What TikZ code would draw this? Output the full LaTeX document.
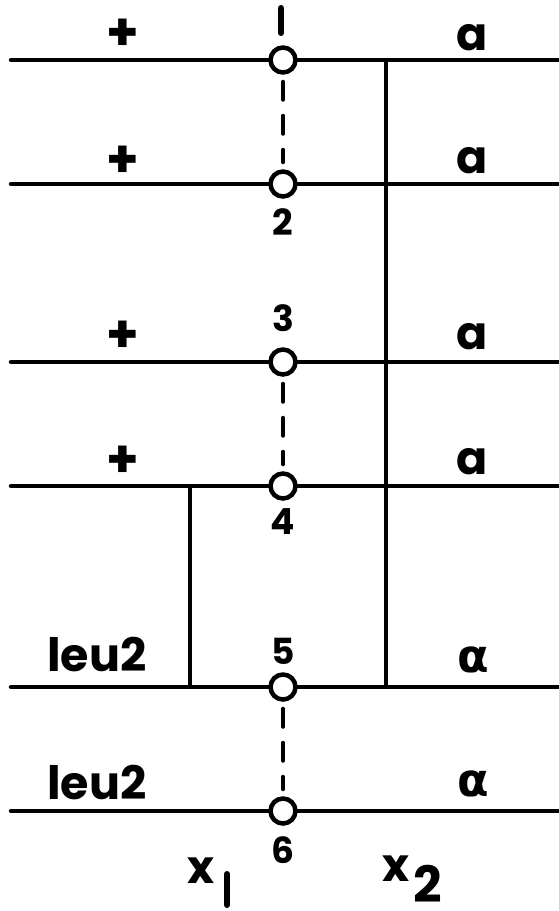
\documentclass[tikz,border=0pt]{standalone}
\usepackage{fontspec}
\setmainfont{Poppins}
\newfontfamily\greekfont{DejaVu Sans}
\begin{document}
\begin{tikzpicture}[x=1pt,y=-1pt,
  chrom/.style={line width=4.5pt,line cap=round},
  link/.style={line width=4pt},
  cent/.style={circle,draw,line width=4.5pt,fill=white,minimum size=25pt,inner sep=0pt},
  pair/.style={line width=4pt,line cap=round,dash pattern=on 18pt off 16pt,shorten <=7pt,shorten >=7pt},
  lab/.style={inner sep=0pt,font=\fontsize{46}{48}\selectfont\bfseries},
  greek/.style={inner sep=0pt,font=\fontsize{46}{48}\selectfont\greekfont\bfseries},
  num/.style={inner sep=0pt,font=\fontsize{36}{38}\selectfont\bfseries},
  plus/.style={inner sep=0pt,font=\fontsize{52}{54}\selectfont\bfseries},
  bar/.style={line width=6pt,line cap=round}]
\useasboundingbox (0,0) rectangle (559,911);
% chromosome ends
\foreach \i/\y in {1/60,2/184,3/362,4/486,5/687,6/811}{
  \coordinate (L\i) at (11,\y);
  \coordinate (R\i) at (559,\y);
}
\foreach \i in {1,...,6}{\draw[chrom] (L\i) -- (R\i);}
% links
\coordinate (x2top) at (386,60);
\coordinate (x2bot) at (386,687);
\coordinate (x1top) at (190,486);
\coordinate (x1bot) at (190,687);
\draw[link] (x2top) -- (x2bot);
\draw[link] (x1top) -- (x1bot);
% centromeres
\foreach \i/\y in {1/60,2/184,3/362,4/486,5/687,6/811}{
  \node[cent] (c\i) at (283,\y) {};
}
\draw[pair] (c1.south) -- (c2.north);
\draw[pair] (c3.south) -- (c4.north);
\draw[pair] (c5.south) -- (c6.north);
% labels
\node[plus] (p1) at (123,35) {+};
\node[plus] (p2) at (123,162) {+};
\node[plus] (p3) at (123,337) {+};
\node[plus] (p4) at (123,462) {+};
\node[lab] (a1) at (472,38) {a};
\node[lab] (a2) at (472,161) {a};
\node[lab] (a3) at (472,337) {a};
\node[lab] (a4) at (472,462) {a};
\node[greek] (al5) at (473,660) {α};
\node[greek] (al6) at (473,784) {α};
\node[lab] (leu5) at (97,655) {leu2};
\node[lab] (leu6) at (97,783) {leu2};
\coordinate (n1a) at (281,8);
\coordinate (n1b) at (281,33);
\draw[bar] (n1a) -- (n1b);
\node[num] (n2) at (283,222) {2};
\node[num] (n3) at (283,318) {3};
\node[num] (n4) at (283,522) {4};
\node[num] (n5) at (283,651) {5};
\node[num] (n6) at (283,850) {6};
\node[lab] (xa) at (201,871) {x};
\coordinate (xa1) at (227,874);
\coordinate (xa2) at (227,905);
\draw[bar] (xa1) -- (xa2);
\node[lab] (xb) at (396,869) {x};
\node[num,font=\fontsize{50}{52}\selectfont\bfseries] (xb2) at (428,884) {2};
\end{tikzpicture}
\end{document}
